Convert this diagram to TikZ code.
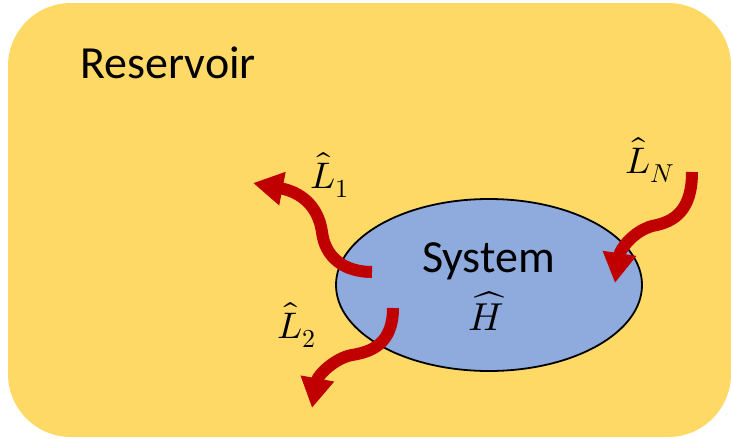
\documentclass[tikz,border=0pt]{standalone}
\usepackage{fontspec}
\usepackage{unicode-math}
\setmainfont{Carlito}
\setmathfont{Latin Modern Math}
\usetikzlibrary{arrows.meta,shapes.geometric}
\definecolor{resyellow}{HTML}{FFD966}
\definecolor{sysblue}{HTML}{8FAADC}
\definecolor{arrred}{HTML}{C00000}
\tikzset{
  lind/.style={draw=arrred, line width=12pt, -{Triangle[length=30pt,width=32pt]}},
  lab/.style={inner sep=0pt, anchor=base west, font=\fontsize{37}{40}\selectfont},
  bigtext/.style={inner sep=0pt, font=\fontsize{46}{50}\selectfont}
}
\begin{document}
\begin{tikzpicture}[x=1pt,y=-1pt]
\useasboundingbox (0,0) rectangle (731,439);
\fill[white] (0,0) rectangle (731,439);
\fill[resyellow, rounded corners=63pt] (8,3) rectangle (731,437);
\node[bigtext, anchor=base west] (res) at (80,78) {Reservoir};
\node[draw=black, line width=1.8pt, fill=sysblue, ellipse, minimum width=306pt, minimum height=172pt, inner sep=0pt] (sys) at (489,285) {};
\node[bigtext, anchor=base] (systxt) at (488.5,272) {System};
\node[inner sep=0pt, anchor=base, font=\fontsize{39}{40}\selectfont] (ham) at (486.5,330) {$\widehat{H}$};
\coordinate (s1) at (372,272);
\coordinate (t1) at (253,183);
\coordinate (s2) at (393,308);
\coordinate (t2) at (312,408);
\coordinate (sN) at (692,172);
\coordinate (tN) at (615,283);
\draw[lind] (s1) .. controls (345,272) and (325,258) .. (322,232) .. controls (318,205) and (300,192) .. (t1);
\draw[lind] (s2) .. controls (393,345) and (370,352) .. (352,355) .. controls (335,358) and (318,375) .. (t2);
\draw[lind] (sN) .. controls (692,210) and (675,222) .. (652,226) .. controls (632,232) and (620,250) .. (tN);
\node[lab] (l1) at (310,188) {$\hat{L}_1$};
\node[lab] (l2) at (277,338) {$\hat{L}_2$};
\node[lab] (lN) at (625,173) {$\hat{L}_N$};
\end{tikzpicture}
\end{document}
